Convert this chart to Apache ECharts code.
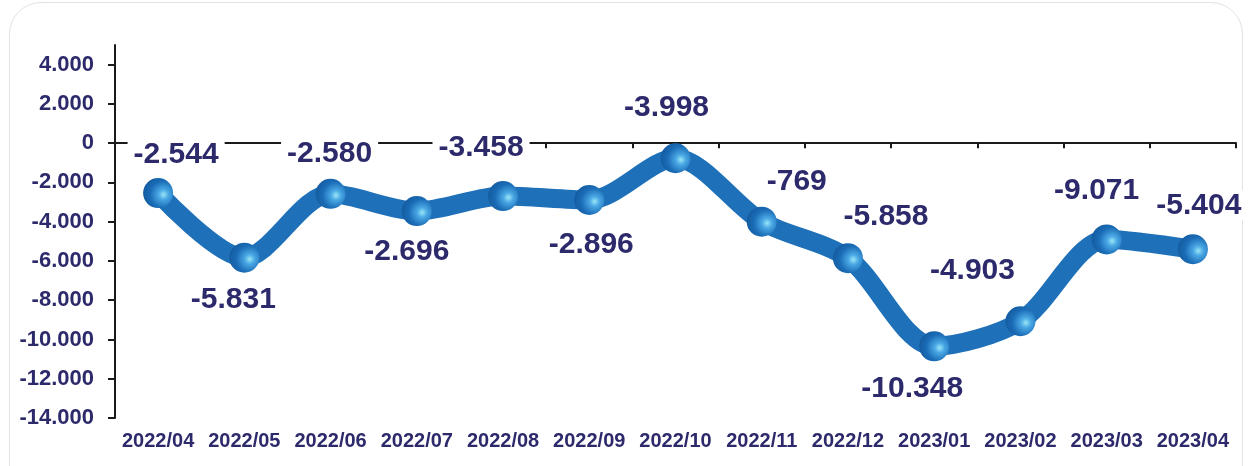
<!DOCTYPE html>
<html>
<head>
<meta charset="utf-8">
<script src="https://cdn.jsdelivr.net/npm/echarts@6/dist/echarts.min.js"></script>
<style>
  html, body { margin: 0; padding: 0; background: #fff; }
  #card {
    position: absolute; left: 9px; top: 2px; width: 1232px; height: 500px;
    border: 1px solid #e3e3e3; border-radius: 32px; background: #fff;
  }
  #chart { position: absolute; left: 0; top: 0; width: 1251px; height: 466px; }
</style>
</head>
<body>
<div id="card"></div>
<div id="chart"></div>
<script>
// months
var months = ['2022/04', '2022/05', '2022/06', '2022/07', '2022/08', '2022/09', '2022/10',
              '2022/11', '2022/12', '2023/01', '2023/02', '2023/03', '2023/04'];
// values
var values = [-2544, -5831, -2580, -3458, -2696, -2896, -769,
              -3998, -5858, -10348, -9071, -4903, -5404];
// label texts as printed in the picture
var labelTexts = ['-2.544', '-5.831', '-2.580', '-2.696', '-3.458', '-2.896', '-3.998',
                  '-769', '-5.858', '-10.348', '-4.903', '-9.071', '-5.404'];
// y ticks
var yTicks = [-14000, -12000, -10000, -8000, -6000, -4000, -2000, 0, 2000, 4000];

var textColor = '#2d2a6c';
var fontFam = '"Liberation Sans", Arial, sans-serif';

function fmt(v) {
	if (v == 0) return '0';
	var s = String(Math.abs(v)).replace(/\B(?=(\d{3})+(?!\d))/g, '.');
	return (v < 0 ? '-' : '') + s;
}

// 标签偏移 (相对点中心)
var offs = [[18, -38], [-11, 42], [-1, -40], [-10, 41], [-22, -48], [2, 45], [-9, -51],
            [35, -40], [38, -41], [-22, 42], [-48, -51], [-10, -49], [6, -44]];

var seriesData = values.map(function(v, i) {
	return {
		value: v,
		label: { formatter: labelTexts[i], offset: offs[i] }
	};
});

var myChart = echarts.init(document.getElementById('chart'));
var option = {
	animation: false,
	grid: { left: 115, right: 15, top: 45, bottom: 48 },
	xAxis: [{
		type: 'category',
		data: months,
		position: 'bottom',
		boundaryGap: true,
		axisLine: { show: true, onZero: true, lineStyle: { color: '#1a1a1a', width: 2 } },
		axisTick: { show: true, length: 5, lineStyle: { color: '#1a1a1a', width: 2 } },
		axisLabel: { show: false },
		splitLine: { show: false }
	}, {
		type: 'category',
		data: months,
		position: 'bottom',
		axisLine: { show: false, onZero: false },
		axisTick: { show: false },
		axisLabel: {
			interval: 0,
			hideOverlap: false,
			margin: 13,
			color: textColor,
			fontFamily: fontFam,
			fontWeight: 'bold',
			fontSize: 20
		}
	}],
	yAxis: {
		type: 'value',
		min: -14000,
		max: 5000,
		axisLine: { show: true, lineStyle: { color: '#1a1a1a', width: 2 } },
		axisTick: { show: true, length: 7, customValues: yTicks, lineStyle: { color: '#1a1a1a', width: 2 } },
		axisLabel: {
			customValues: yTicks,
			margin: 21,
			color: textColor,
			fontFamily: fontFam,
			fontWeight: 'bold',
			fontSize: 22,
			formatter: fmt
		},
		splitLine: { show: false }
	},
	series: [{
		type: 'line',
		xAxisIndex: 0,
		data: seriesData,
		smooth: 0.3,
		symbol: 'circle',
		symbolSize: 30,
		lineStyle: { color: '#1e70b8', width: 19, cap: 'round', join: 'round' },
		itemStyle: {
			color: new echarts.graphic.RadialGradient(0.68, 0.55, 0.75, [
				{ offset: 0, color: '#9ae6f7' },
				{ offset: 0.22, color: '#4aa8e4' },
				{ offset: 0.6, color: '#1a6cb6' },
				{ offset: 1, color: '#13579a' }
			])
		},
		label: {
			show: true,
			position: 'inside',
			color: textColor,
			fontFamily: fontFam,
			fontWeight: 'bold',
			fontSize: 30,
			backgroundColor: '#fff',
			padding: [0, 6]
		},
		emphasis: { disabled: true }
	}]
};
myChart.setOption(option);
</script>
</body>
</html>
